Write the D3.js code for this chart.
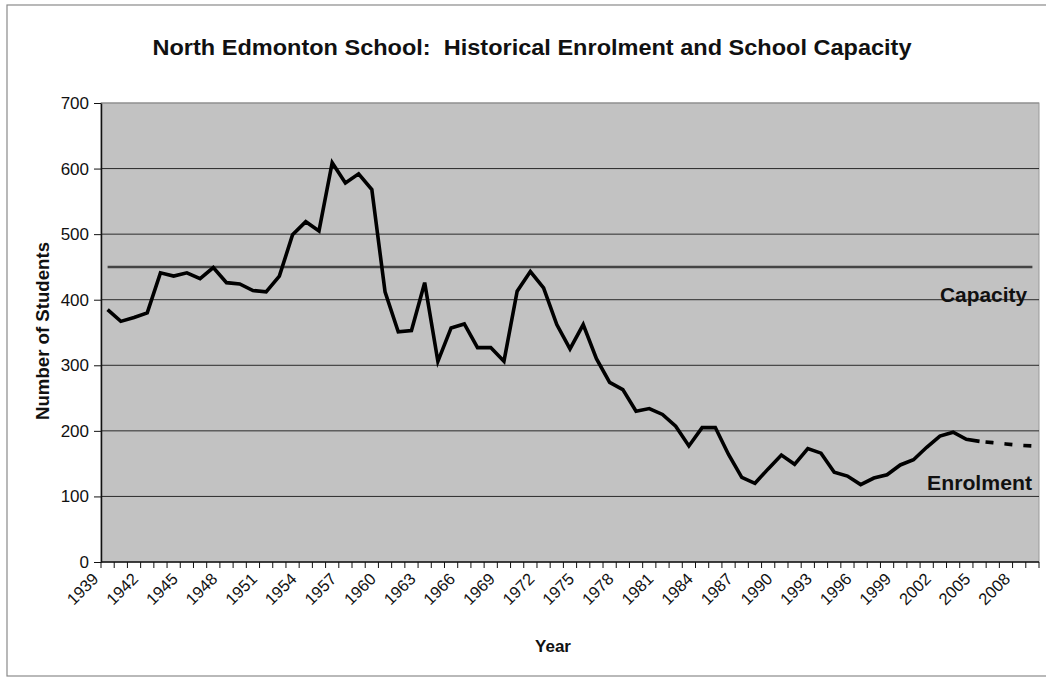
<!DOCTYPE html>
<html lang="en">
<head>
<meta charset="utf-8">
<style type="text/css">
    body { margin: 0; background: #fff; }
    svg { display: block; font-family: "Liberation Sans", Arial, sans-serif; }
    .grid line { stroke: #2a2a2a; stroke-width: 1px; }
    .ttl { font-weight: bold; fill: #111; white-space: pre; }
</style>
</head>
<body>
<svg width="1046" height="678"></svg>

<script src="https://d3js.org/d3.v7.min.js"></script>
<script type="text/javascript">

    // categories: one per year, 1939 - 2009
    var years = d3.range(1939, 2010);
    var yearLabels = [1939, 1942, 1945, 1948, 1951, 1954, 1957, 1960, 1963, 1966, 1969, 1972,
                      1975, 1978, 1981, 1984, 1987, 1990, 1993, 1996, 1999, 2002, 2005, 2008];

    // enrolment 1939 - 2005
    var enrolYears = d3.range(1939, 2006);
    var enrolment = [385, 367, 373, 380, 441, 436, 441, 432, 449, 426,
                     424, 414, 412, 436, 499, 519, 505, 609, 578, 592,
                     568, 412, 351, 353, 426, 306, 357, 363, 327, 327,
                     306, 413, 443, 418, 362, 325, 362, 310, 274, 263,
                     230, 234, 225, 207, 177, 205, 205, 164, 129, 120,
                     142, 163, 149, 173, 166, 137, 131, 118, 128, 133,
                     148, 156, 175, 192, 198, 187, 184];

    // projected enrolment (dashed)
    var projYears = [2005, 2006, 2007, 2008, 2009];
    var projection = [184, 182, 180, 178, 177];

    var capacity = 450;
    var yTicks = [0, 100, 200, 300, 400, 500, 600, 700];

    var svg = d3.select("svg");

    // plot box (note: "top" is taken by window.top)
    var pLeft = 101, pRight = 1039, pTop = 103, pBottom = 562;

    var x = d3.scaleBand().domain(years).range([pLeft, pRight]).padding(0);
    var y = d3.scaleLinear().domain([0, 700]).range([pBottom, pTop]);
    var cx = function (yr) { return x(yr) + x.bandwidth() / 2; };

    // outer chart frame
    svg.append("rect")
        .attr("x", 7).attr("y", 5).attr("width", 1050).attr("height", 671)
        .attr("fill", "none").attr("stroke", "#8a8a8a").attr("stroke-width", 1.2);

    // plot area
    svg.append("rect")
        .attr("x", pLeft).attr("y", pTop)
        .attr("width", pRight - pLeft).attr("height", pBottom - pTop)
        .attr("fill", "#c2c2c2")
        .attr("stroke", "#9a9a9a").attr("stroke-width", 1);

    // gridlines
    svg.append("g").attr("class", "grid")
        .selectAll("line")
        .data(yTicks.filter(function (d) { return d > 0; }))
        .enter().append("line")
        .attr("x1", pLeft).attr("x2", pRight)
        .attr("y1", function (d) { return y(d); })
        .attr("y2", function (d) { return y(d); })
        .style("stroke", function (d) { return d === 700 ? "#8a8a8a" : null; });

    // y axis
    var yAxis = svg.append("g")
        .attr("transform", "translate(" + pLeft + ",0)")
        .call(d3.axisLeft(y).tickValues(yTicks).tickSize(7).tickPadding(5).tickSizeOuter(0));
    yAxis.attr("font-family", null).attr("font-size", 17);
    yAxis.select(".domain").attr("stroke", "#111").attr("stroke-width", 1.5);
    yAxis.selectAll(".tick line").attr("stroke", "#111");
    yAxis.selectAll(".tick text")
        .attr("font-size", 17)
        .style("fill", "#111");

    // x axis line + year ticks between categories
    svg.append("line")
        .attr("x1", pLeft).attr("x2", pRight)
        .attr("y1", pBottom).attr("y2", pBottom)
        .attr("stroke", "#111").attr("stroke-width", 1.5);

    svg.append("g")
        .selectAll("line")
        .data(years.concat([null]))
        .enter().append("line")
        .attr("x1", function (d) { return d === null ? pRight : x(d); })
        .attr("x2", function (d) { return d === null ? pRight : x(d); })
        .attr("y1", pBottom).attr("y2", pBottom + 6)
        .attr("stroke", "#111").attr("stroke-width", 1);

    svg.append("g")
        .attr("font-size", 16.5)
        .selectAll("text")
        .data(yearLabels)
        .enter().append("text")
        .style("fill", "#111")
        .attr("text-anchor", "end")
        .attr("transform", function (d) {
            return "translate(" + (cx(d) - 8) + "," + (pBottom + 18) + ") rotate(-45)";
        })
        .text(function (d) { return d; });

    // capacity line
    svg.append("line")
        .attr("x1", cx(years[0])).attr("x2", cx(years[years.length - 1]))
        .attr("y1", y(capacity)).attr("y2", y(capacity))
        .attr("stroke", "#444").attr("stroke-width", 2.4);

    // enrolment line
    var line = d3.line()
        .x(function (d) { return cx(d[0]); })
        .y(function (d) { return y(d[1]); });

    svg.append("path")
        .datum(d3.zip(enrolYears, enrolment))
        .attr("d", line)
        .attr("fill", "none")
        .attr("stroke", "#000")
        .attr("stroke-width", 3.6)
        .attr("stroke-linejoin", "miter");

    svg.append("path")
        .datum(d3.zip(projYears, projection))
        .attr("d", line)
        .attr("fill", "none")
        .attr("stroke", "#000")
        .attr("stroke-width", 3.6)
        .attr("stroke-dasharray", "0,6,8,5");

    // series labels
    svg.append("text").attr("class", "ttl")
        .attr("x", 1027).attr("y", 302)
        .attr("text-anchor", "end")
        .attr("font-size", 20)
        .attr("textLength", 87).attr("lengthAdjust", "spacingAndGlyphs")
        .text("Capacity");

    svg.append("text").attr("class", "ttl")
        .attr("x", 1032).attr("y", 490)
        .attr("text-anchor", "end")
        .attr("font-size", 21)
        .attr("textLength", 105).attr("lengthAdjust", "spacingAndGlyphs")
        .text("Enrolment");

    // titles
    svg.append("text").attr("class", "ttl")
        .attr("x", 532).attr("y", 55)
        .attr("text-anchor", "middle")
        .attr("font-size", 22)
        .attr("textLength", 759).attr("lengthAdjust", "spacingAndGlyphs")
        .text("North Edmonton School:  Historical Enrolment and School Capacity");

    svg.append("text").attr("class", "ttl")
        .attr("transform", "translate(49,331) rotate(-90)")
        .attr("text-anchor", "middle")
        .attr("font-size", 18)
        .attr("textLength", 178).attr("lengthAdjust", "spacingAndGlyphs")
        .text("Number of Students");

    svg.append("text").attr("class", "ttl")
        .attr("x", 553).attr("y", 652)
        .attr("text-anchor", "middle")
        .attr("font-size", 17)
        .text("Year");

</script>
</body>
</html>
